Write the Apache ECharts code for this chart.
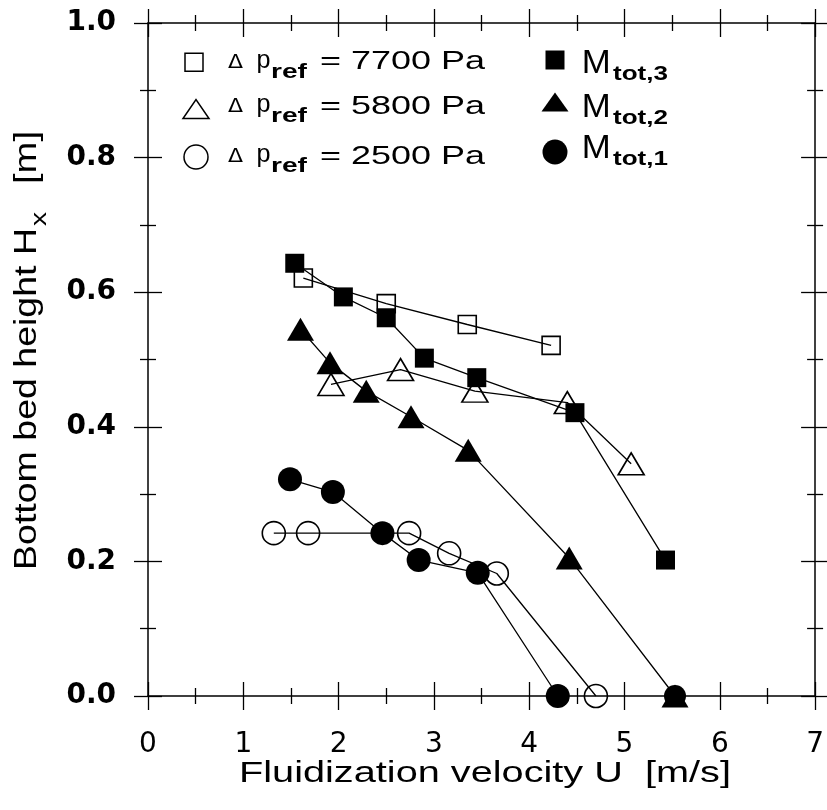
<!DOCTYPE html>
<html><head><meta charset="utf-8">
<script src="https://cdn.jsdelivr.net/npm/echarts@6/dist/echarts.min.js"></script>
<style>html,body{margin:0;padding:0;background:#fff}#c{width:827px;height:810px}</style>
</head><body><div id="c"></div>
<script>
// ---- data ----
const m3X = [1.54, 2.05, 2.50, 2.90, 3.45, 4.48, 5.43];
const m3Y = [0.643, 0.593, 0.562, 0.502, 0.473, 0.421, 0.202];
const m2X = [1.60, 1.91, 2.29, 2.76, 3.36, 4.42, 5.53];
const m2Y = [0.545, 0.495, 0.453, 0.415, 0.365, 0.205, 0.0];
const m1X = [1.49, 1.94, 2.46, 2.84, 3.46, 4.30];
const m1Y = [0.322, 0.303, 0.242, 0.202, 0.183, 0.0];
const p7700X = [1.63, 2.50, 3.35, 4.23];
const p7700Y = [0.621, 0.583, 0.552, 0.521];
const p5800X = [1.92, 2.65, 3.43, 4.40, 5.07];
const p5800Y = [0.463, 0.485, 0.453, 0.436, 0.345];
const p2500X = [1.32, 1.68, 2.74, 3.16, 3.66, 4.70];
const p2500Y = [0.242, 0.242, 0.242, 0.212, 0.182, 0.0];
const extraX = [5.53];
const extraY = [0.0];
const xTickLabels = ['0','1','2','3','4','5','6','7'];
const yTickLabels = ['0.0','0.2','0.4','0.6','0.8','1.0'];
const legendOpen = ['7700', '5800', '2500'];
const legendFilled = ['3', '2', '1'];

// ---- helpers ----
const FAM = '"Liberation Sans", Arial, sans-serif';
const ctx2d = document.createElement('canvas').getContext('2d');
function measure(text, size, weight, fam) {
  ctx2d.font = weight + ' ' + size + 'px ' + (fam || FAM);
  return ctx2d.measureText(text).width;
}
function stxt(text, size, weight, x, y, w, rot, fam) {
  const mw = measure(text, size, weight, fam);
  return {
    type: 'text', x: x, y: y, rotation: rot || 0, scaleX: w / mw, scaleY: 1, silent: true, z: 100,
    style: { text: text, fontSize: size, fontWeight: weight, fontFamily: fam || FAM, fill: '#000', align: 'left', verticalAlign: 'middle' }
  };
}
function pts(xs, ys) { return xs.map((x, i) => [x, ys[i]]); }

const BLACK = '#000';
const tickStyle = { color: BLACK, width: 1.3 };
function xAx(pos, inside, labels) {
  return {
    type: 'value', min: 0, max: 7, interval: 1, position: pos,
    splitLine: { show: false },
    axisLine: { show: !inside, onZero: false, lineStyle: { color: BLACK, width: 1.5 } },
    axisTick: { show: true, inside: inside, length: 14, lineStyle: tickStyle },
    minorTick: { show: true, splitNumber: 2, length: 8, lineStyle: tickStyle },
    axisLabel: labels ? {
      show: true, margin: 35, fontSize: 28, color: BLACK, fontFamily: '"DejaVu Sans", sans-serif',
      formatter: v => xTickLabels[Math.round(v)]
    } : { show: false }
  };
}
function yAx(pos, inside, labels) {
  return {
    type: 'value', min: 0, max: 1, interval: 0.2, position: pos,
    splitLine: { show: false },
    axisLine: { show: !inside, onZero: false, lineStyle: { color: BLACK, width: 1.5 } },
    axisTick: { show: true, inside: inside, length: 14, lineStyle: tickStyle },
    minorTick: { show: true, splitNumber: 2, length: 8, lineStyle: tickStyle },
    axisLabel: labels ? {
      show: true, margin: 32, fontSize: 28, fontWeight: 'bold', color: BLACK, fontFamily: '"DejaVu Sans", sans-serif',
      formatter: v => yTickLabels[Math.round(v * 5)]
    } : { show: false }
  };
}
function lineSeries(name, xs, ys, symbol, size, filled, z) {
  return {
    type: 'line', name: name, data: pts(xs, ys), symbol: symbol, symbolSize: size,
    showSymbol: true, showAllSymbol: true, z: z,
    lineStyle: { color: BLACK, width: 1.3 },
    itemStyle: filled ? { color: BLACK, borderColor: BLACK, borderWidth: 0 }
                      : { color: 'rgba(0,0,0,0)', borderColor: BLACK, borderWidth: 1.6 },
    emphasis: { disabled: true }
  };
}

// ---- legend / titles as graphics ----
const graphics = [];
const openRowsY = [62.3, 106.5, 156.5];
legendOpen.forEach((val, i) => {
  const y = openRowsY[i];
  graphics.push(stxt('\u0394', 19, 'normal', 228, y + 0.5, 15, 0, '"DejaVu Sans", sans-serif'));
  graphics.push(stxt('p', 26, 'normal', 256.5, y - 1.5, 14));
  graphics.push(stxt('ref', 20, 'bold', 271, y + 10, 36));
  graphics.push(stxt('= ' + val + ' Pa', 26, 'normal', 320, y, 165));
});
const mRowsY = [64.2, 107.5, 149.2];
legendFilled.forEach((val, i) => {
  const y = mRowsY[i];
  graphics.push(stxt('M', 33, 'normal', 581.7, y, 29));
  graphics.push(stxt('tot,' + val, 20, 'bold', 613, y + 10.5, 55));
});
// legend markers
graphics.push({ type: 'rect', silent: true, shape: { x: 185, y: 53.3, width: 18, height: 18 }, style: { fill: 'none', stroke: BLACK, lineWidth: 1.5 } });
graphics.push({ type: 'polygon', silent: true, shape: { points: [[183, 118.5], [209, 118.5], [196, 99.5]] }, style: { fill: 'none', stroke: BLACK, lineWidth: 1.5 } });
graphics.push({ type: 'circle', silent: true, shape: { cx: 196, cy: 157, r: 12 }, style: { fill: 'none', stroke: BLACK, lineWidth: 1.5 } });
graphics.push({ type: 'rect', silent: true, shape: { x: 545.5, y: 50.5, width: 19, height: 19 }, style: { fill: BLACK } });
graphics.push({ type: 'polygon', silent: true, shape: { points: [[541.5, 111.5], [568.5, 111.5], [555, 92.5]] }, style: { fill: BLACK } });
graphics.push({ type: 'circle', silent: true, shape: { cx: 555, cy: 152, r: 12.5 }, style: { fill: BLACK } });
// axis titles
graphics.push(stxt('Fluidization velocity U  [m/s]', 30, 'normal', 239, 774, 492));
graphics.push(stxt('Bottom bed height H', 32, 'normal', 26.7, 570, 342, Math.PI / 2));
graphics.push(stxt('x', 22, 'normal', 40, 226, 14, Math.PI / 2));
graphics.push(stxt('[m]', 32, 'normal', 26.7, 184, 53, Math.PI / 2));

const chart = echarts.init(document.getElementById('c'), null, { renderer: 'canvas' });
chart.setOption({
  animation: false,
  backgroundColor: '#fff',
  grid: { left: 148, right: 7, top: 23, bottom: 114, containLabel: false },
  xAxis: [xAx('bottom', false, true), xAx('bottom', true, false), xAx('top', false, false), xAx('top', true, false)],
  yAxis: [yAx('left', false, true), yAx('left', true, false), yAx('right', false, false), yAx('right', true, false)],
  series: [
    lineSeries('\u0394p_ref = 7700 Pa', p7700X, p7700Y, 'rect', 18, false, 2),
    lineSeries('\u0394p_ref = 5800 Pa', p5800X, p5800Y, 'triangle', [26, 22], false, 2),
    lineSeries('\u0394p_ref = 2500 Pa', p2500X, p2500Y, 'circle', 23, false, 2),
    lineSeries('M_tot,3', m3X, m3Y, 'rect', 19, true, 3),
    lineSeries('M_tot,1', m1X, m1Y, 'circle', 24, true, 3),
    lineSeries('M_tot,1 (end)', extraX, extraY, 'circle', 22, true, 3),
    lineSeries('M_tot,2', m2X, m2Y, 'triangle', [27, 23], true, 4)
  ],
  graphic: graphics
});
</script>
</body></html>
